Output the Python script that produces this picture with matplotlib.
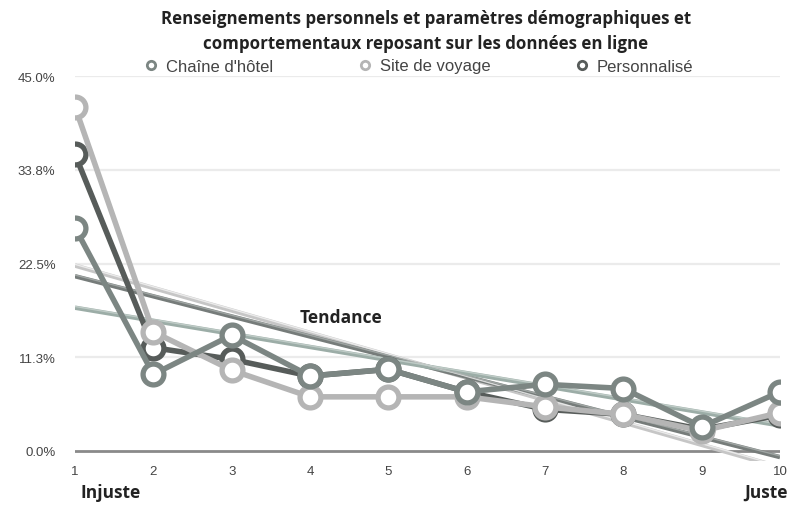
import numpy as np
import matplotlib
matplotlib.use("Agg")
import matplotlib.pyplot as plt
from matplotlib.lines import Line2D

# ---- data (percent) ----
x = [1, 2, 3, 4, 5, 6, 7, 8, 9, 10]
chaine = [26.8, 9.2, 13.9, 9.0, 9.8, 7.1, 8.0, 7.5, 2.9, 7.1]
site = [41.3, 14.3, 9.7, 6.5, 6.5, 6.5, 5.3, 4.4, 2.4, 4.6]
perso = [35.6, 12.4, 11.0, 9.0, 9.8, 7.1, 5.0, 4.4, 2.6, 4.3]
yticks = [0.0, 11.25, 22.5, 33.75, 45.0]
ytick_labels = ["0.0%", "11.3%", "22.5%", "33.8%", "45.0%"]
names = ["Chaîne d'hôtel", "Site de voyage", "Personnalisé"]

c_chaine = "#7c8683"
c_site = "#b5b5b5"
c_perso = "#575c5a"

fig = plt.figure(figsize=(7.89, 5.06), dpi=100)
ax = fig.add_axes([75/789, 1-462/506, (780-75)/789, (462-77)/506])
ax.set_xlim(1, 10)
ax.set_ylim(-1.2, 45)

for s in ax.spines.values():
    s.set_visible(False)

# gridlines
for yv in yticks[1:]:
    ax.axhline(yv, color="#ebebeb", lw=1.6, zorder=0)
ax.axhline(0, color="#8a8a8a", lw=2.0, zorder=1)

ax.set_yticks(yticks)
ax.set_yticklabels(ytick_labels, fontsize=9.5, color="#444444", family="Liberation Sans")
ax.set_xticks(x)
ax.set_xticklabels([str(v) for v in x], fontsize=9.5, color="#444444", family="Liberation Sans")
ax.tick_params(axis="both", length=0)
ax.tick_params(axis="y", pad=14)
ax.tick_params(axis="x", pad=3)

xa = np.array(x, dtype=float)
xs = np.array([1.0, 10.0])

# trend lines (linear regression of each series)
def trend(vals, color, hi):
    p = np.polyfit(xa, np.array(vals), 1)
    ys = np.polyval(p, xs)
    ax.plot(xs, ys, color=color, lw=3.2, zorder=2, solid_capstyle="butt")
    ax.plot(xs, ys + 0.15, color=hi, lw=1.0, zorder=2.1, alpha=0.8)

trend(site, "#c6c6c6", "#f4f4f4")
trend(perso, "#767c7a", "#aab0ae")
trend(chaine, "#9cada7", "#c8d3cf")

lw = 4.0
mk = dict(marker="o", markersize=15, markerfacecolor="white", markeredgewidth=3.8)
ax.plot(x, perso, color=c_perso, lw=lw, markeredgecolor=c_perso, zorder=3, **mk)
ax.plot(x, site, color=c_site, lw=lw, markeredgecolor=c_site, zorder=4, **mk)
ax.plot(x, chaine, color=c_chaine, lw=lw, markeredgecolor=c_chaine, zorder=5, **mk)

ax.text(3.87, 16.1, "Tendance", fontsize=12.5, fontweight="bold", family="Open Sans",
        color="#222222", va="center", ha="left", zorder=6)

# title
fig.text(426/789, 1-19/506, "Renseignements personnels et paramètres démographiques et",
         ha="center", va="center", fontsize=12.2, fontweight="bold", family="Open Sans", color="#222222")
fig.text(426/789, 1-44/506, "comportementaux reposant sur les données en ligne",
         ha="center", va="center", fontsize=12.2, fontweight="bold", family="Open Sans", color="#222222")

# legend
handles = [Line2D([], [], lw=0, marker="o", markersize=6, markerfacecolor="white",
                  markeredgewidth=2, markeredgecolor=c) for c in (c_chaine, c_site, c_perso)]
leg = fig.legend(handles, names, loc="center", bbox_to_anchor=(418/789, 1-67/506), ncol=3,
                 frameon=False, prop={"family": "Liberation Sans", "size": 12},
                 columnspacing=5.0, handletextpad=0.4, handlelength=1.0)
for t in leg.get_texts():
    t.set_color("#444444")

fig.text(80/789, 1-493/506, "Injuste", ha="left", va="center", fontsize=12.5,
         fontweight="bold", family="Open Sans", color="#222222")
fig.text(788/789, 1-493/506, "Juste", ha="right", va="center", fontsize=12.5,
         fontweight="bold", family="Open Sans", color="#222222")

fig.savefig("out.png", dpi=100)
